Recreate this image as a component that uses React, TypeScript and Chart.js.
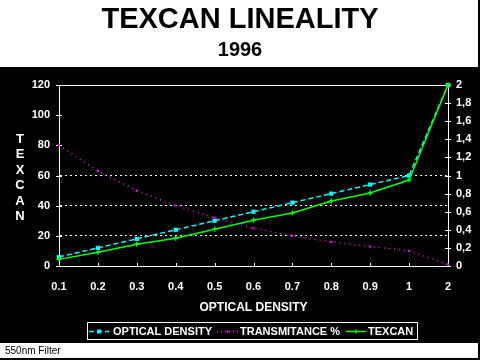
import React, { useEffect, useRef } from 'react';
import { Chart, registerables } from 'chart.js';

Chart.register(...registerables);

const TITLE = 'TEXCAN LINEALITY';
const SUBTITLE = '1996';
const Y_TITLE = 'TEXCAN';
const X_TITLE = 'OPTICAL DENSITY';
const FOOTER = '550nm Filter';

const categories = ['0.1', '0.2', '0.3', '0.4', '0.5', '0.6', '0.7', '0.8', '0.9', '1', '2'];
const opticalDensity = [0.1, 0.2, 0.3, 0.4, 0.5, 0.6, 0.7, 0.8, 0.9, 1, 2];
const transmittance = [80, 63, 50, 40, 32, 25, 20, 16, 13, 10, 1];
const texcan = [4.4, 9.1, 14.4, 18.4, 24.3, 30.3, 35.1, 43.1, 48.4, 57, 120];
const seriesNames = ['OPTICAL DENSITY', 'TRANSMITANCE %', 'TEXCAN'];
const gridValues = [20, 40, 60, 120];

const FONT = '"Liberation Sans", Arial, sans-serif';
const CYAN = '#00ffff';
const MAGENTA = '#ff00ff';
const GREEN = '#00ff00';

export default function App() {
  const ref = useRef<HTMLCanvasElement>(null);

  useEffect(() => {
    const canvas = ref.current!;

    const decor = {
      id: 'decor',
      beforeDraw(chart: any) {
        const ctx = chart.ctx;
        ctx.save();
        ctx.fillStyle = '#ffffff';
        ctx.fillRect(0, 0, 480, 360);
        ctx.fillStyle = '#000000';
        ctx.fillRect(0, 67, 480, 276);
        ctx.fillRect(478, 0, 2, 360);
        ctx.fillRect(0, 358, 480, 2);
        ctx.restore();
      },
      beforeDatasetsDraw(chart: any) {
        const ctx = chart.ctx;
        const a = chart.chartArea;
        ctx.save();
        ctx.strokeStyle = '#ffffff';
        ctx.lineWidth = 1;
        ctx.beginPath();
        ctx.moveTo(a.left, Math.round(a.top) + 0.5);
        ctx.lineTo(a.right, Math.round(a.top) + 0.5);
        ctx.stroke();
        // tick marks
        const ys = chart.scales.y;
        ys.ticks.forEach((t: any) => {
          const py = Math.round(ys.getPixelForValue(t.value)) + 0.5;
          ctx.beginPath();
          ctx.moveTo(a.left - 3, py);
          ctx.lineTo(a.left + 3, py);
          ctx.stroke();
        });
        const y1 = chart.scales.y1;
        y1.ticks.forEach((t: any) => {
          const py = Math.round(y1.getPixelForValue(t.value)) + 0.5;
          ctx.beginPath();
          ctx.moveTo(a.right - 3, py);
          ctx.lineTo(a.right + 3, py);
          ctx.stroke();
        });
        const xs = chart.scales.x;
        for (let i = 1; i < categories.length - 1; i++) {
          const px = Math.round(xs.getPixelForValue(i)) + 0.5;
          ctx.beginPath();
          ctx.moveTo(px, a.bottom);
          ctx.lineTo(px, a.bottom - 3);
          ctx.stroke();
        }
        ctx.restore();
      },
      afterDraw(chart: any) {
        const ctx = chart.ctx;
        const a = chart.chartArea;
        ctx.save();
        ctx.textAlign = 'center';
        ctx.textBaseline = 'middle';
        ctx.fillStyle = '#000000';
        ctx.font = `bold 29px ${FONT}`;
        ctx.fillText(TITLE, 240, 20);
        ctx.font = `bold 20px ${FONT}`;
        ctx.fillText(SUBTITLE, 240, 50);

        ctx.fillStyle = '#ffffff';
        ctx.font = `bold 13px ${FONT}`;
        Y_TITLE.split('').forEach((ch, i) => ctx.fillText(ch, 20, 139 + i * 15.5));

        ctx.font = `bold 12px ${FONT}`;
        ctx.fillText(X_TITLE, (a.left + a.right) / 2, 308);

        // legend
        ctx.strokeStyle = '#ffffff';
        ctx.lineWidth = 1;
        ctx.strokeRect(87.5, 322.5, 330, 17);
        const ly = 331.5;
        const items = [
          { x1: 89, x2: 109, text: 113, color: CYAN, dash: [5, 3], w: 1.5, marker: 'rect' },
          { x1: 217, x2: 238, text: 240, color: MAGENTA, dash: [1, 3], w: 1.5, marker: 'dot' },
          { x1: 346, x2: 366, text: 368, color: GREEN, dash: [], w: 1.5, marker: 'cross' },
        ];
        items.forEach((it, i) => {
          ctx.save();
          ctx.strokeStyle = it.color;
          ctx.lineWidth = it.w;
          ctx.setLineDash(it.dash);
          ctx.beginPath();
          ctx.moveTo(it.x1, ly);
          ctx.lineTo(it.x2, ly);
          ctx.stroke();
          ctx.setLineDash([]);
          const mx = (it.x1 + it.x2) / 2;
          ctx.fillStyle = it.color;
          if (it.marker === 'rect') ctx.fillRect(mx - 2, ly - 2, 4, 4);
          else if (it.marker === 'dot') ctx.fillRect(mx - 1, ly - 1, 2, 2);
          else {
            ctx.beginPath();
            ctx.moveTo(mx, ly - 2);
            ctx.lineTo(mx, ly + 2);
            ctx.stroke();
          }
          ctx.restore();
          ctx.fillStyle = '#ffffff';
          ctx.font = `bold 11px ${FONT}`;
          ctx.textAlign = 'left';
          ctx.fillText(seriesNames[i], it.text, ly);
        });

        ctx.fillStyle = '#000000';
        ctx.font = `10px ${FONT}`;
        ctx.textAlign = 'left';
        ctx.fillText(FOOTER, 5, 351);
        ctx.restore();
      },
    };

    const tickFont = { family: FONT, size: 11, weight: 'bold' as const };

    const chart = new Chart(canvas, {
      type: 'line',
      data: {
        labels: categories,
        datasets: [
          {
            label: seriesNames[0],
            data: opticalDensity,
            yAxisID: 'y1',
            borderColor: CYAN,
            backgroundColor: CYAN,
            borderWidth: 1.5,
            borderDash: [5, 3],
            pointStyle: 'rect',
            pointRadius: 3,
            pointBorderWidth: 0,
            tension: 0,
            clip: false,
            order: 2,
          },
          {
            label: seriesNames[1],
            data: transmittance,
            yAxisID: 'y',
            borderColor: MAGENTA,
            backgroundColor: MAGENTA,
            borderWidth: 1.5,
            borderDash: [1, 4],
            pointStyle: 'rect',
            pointRadius: 1.5,
            pointBorderWidth: 0,
            tension: 0,
            clip: false,
            order: 1,
          },
          {
            label: seriesNames[2],
            data: texcan,
            yAxisID: 'y',
            borderColor: GREEN,
            backgroundColor: GREEN,
            borderWidth: 1.5,
            pointStyle: 'cross',
            pointRadius: 2.5,
            pointBorderWidth: 1.5,
            tension: 0,
            clip: false,
            order: 0,
          },
        ],
      },
      options: {
        responsive: false,
        animation: false,
        layout: { padding: { top: 85, left: 0, right: 0, bottom: 0 } },
        plugins: {
          legend: { display: false },
          title: { display: false },
          tooltip: { enabled: false },
        },
        scales: {
          x: {
            type: 'category',
            offset: false,
            grid: { display: false, drawTicks: false },
            border: { display: true, color: '#ffffff', width: 1 },
            ticks: { color: '#ffffff', font: tickFont, padding: 14, maxRotation: 0, autoSkip: false },
            afterFit(scale: any) {
              scale.height = 94;
            },
          },
          y: {
            position: 'left',
            min: 0,
            max: 120,
            ticks: { stepSize: 20, color: '#ffffff', font: tickFont, padding: 9 },
            grid: {
              drawTicks: false,
              lineWidth: 1,
              color: (c: any) => (c.tick && gridValues.includes(c.tick.value) ? '#ffffff' : 'rgba(0,0,0,0)'),
            },
            border: { display: true, color: '#ffffff', width: 1, dash: [2, 3] },
            afterFit(scale: any) {
              scale.width = 59;
            },
          },
          y1: {
            position: 'right',
            min: 0,
            max: 2,
            ticks: {
              stepSize: 0.2,
              color: '#ffffff',
              font: tickFont,
              padding: 8,
              callback: (v: any) => String(Number(Number(v).toFixed(1))).replace('.', ','),
            },
            grid: { display: false, drawTicks: false, drawOnChartArea: false },
            border: { display: true, color: '#ffffff', width: 1 },
            afterFit(scale: any) {
              scale.width = 32;
            },
          },
        },
      },
      plugins: [decor],
    });

    return () => chart.destroy();
  }, []);

  return (
    <div style={{ position: 'fixed', left: 0, top: 0, width: 480, height: 360 }}>
      <canvas ref={ref} width={480} height={360} style={{ display: 'block' }} />
    </div>
  );
}
